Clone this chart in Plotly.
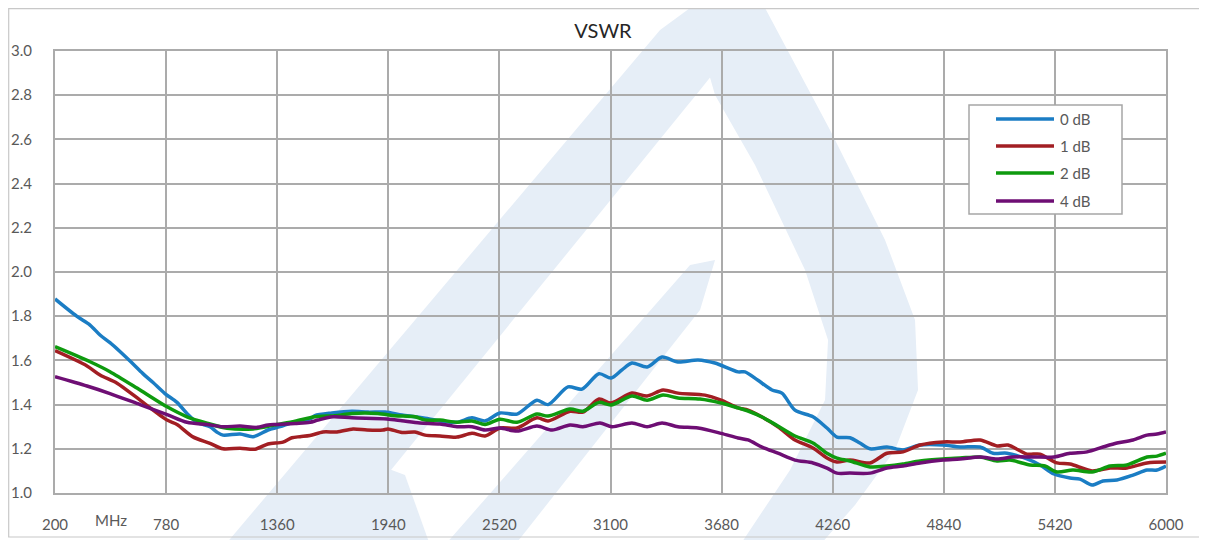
import plotly.graph_objects as go

# ---- data (MHz, VSWR) ----
f_0db = [200, 313, 383, 435, 487, 539, 600, 659, 712, 774, 837, 889, 941, 1009, 1046, 1077, 1166, 1234,
         1312, 1375, 1442, 1531, 1557, 1646, 1750, 1834, 1923, 2011, 2079, 2132, 2210, 2299, 2377, 2445,
         2523, 2612, 2716, 2774, 2878, 2951, 3040, 3103, 3160, 3212, 3291, 3369, 3452, 3557, 3645, 3766,
         3802, 3870, 3943, 3995, 4063, 4157, 4230, 4282, 4350, 4402, 4455, 4543, 4627, 4716, 4836, 4925,
         5029, 5097, 5170, 5274, 5342, 5415, 5499, 5551, 5614, 5671, 5744, 5828, 5901, 5953, 6000]
v_0db = [1.878, 1.80, 1.76, 1.715, 1.68, 1.64, 1.59, 1.54, 1.50, 1.45, 1.41, 1.36, 1.32, 1.30, 1.275, 1.262,
         1.267, 1.255, 1.285, 1.30, 1.32, 1.335, 1.35, 1.362, 1.37, 1.366, 1.366, 1.353, 1.345, 1.338, 1.326,
         1.32, 1.34, 1.326, 1.362, 1.357, 1.42, 1.40, 1.48, 1.47, 1.54, 1.52, 1.557, 1.588, 1.57, 1.615,
         1.593, 1.602, 1.588, 1.548, 1.548, 1.51, 1.466, 1.452, 1.375, 1.345, 1.294, 1.253, 1.25, 1.226,
         1.20, 1.208, 1.195, 1.217, 1.217, 1.208, 1.208, 1.18, 1.18, 1.154, 1.127, 1.086, 1.068, 1.063,
         1.036, 1.054, 1.059, 1.081, 1.104, 1.104, 1.122]

f_1db = [200, 367, 435, 524, 644, 785, 837, 920, 1009, 1077, 1166, 1244, 1312, 1390, 1437, 1479, 1531, 1599,
         1672, 1756, 1829, 1912, 1938, 2011, 2079, 2132, 2210, 2299, 2377, 2445, 2523, 2612, 2716, 2774,
         2889, 2956, 3040, 3103, 3212, 3291, 3374, 3452, 3593, 3677, 3766, 3818, 3891, 3974, 4063, 4157,
         4230, 4282, 4350, 4455, 4543, 4627, 4716, 4836, 4925, 5029, 5118, 5175, 5274, 5342, 5431, 5499,
         5614, 5708, 5796, 5901, 6000]
v_1db = [1.644, 1.575, 1.534, 1.497, 1.42, 1.33, 1.31, 1.254, 1.225, 1.20, 1.203, 1.198, 1.222, 1.23, 1.25,
         1.255, 1.26, 1.276, 1.276, 1.29, 1.285, 1.285, 1.29, 1.274, 1.276, 1.262, 1.258, 1.253, 1.27, 1.258,
         1.294, 1.294, 1.34, 1.326, 1.37, 1.366, 1.425, 1.407, 1.452, 1.439, 1.466, 1.452, 1.443, 1.42,
         1.385, 1.375, 1.344, 1.30, 1.24, 1.204, 1.158, 1.14, 1.149, 1.136, 1.18, 1.186, 1.217, 1.231,
         1.231, 1.24, 1.213, 1.217, 1.176, 1.176, 1.136, 1.131, 1.10, 1.113, 1.113, 1.136, 1.14]

f_2db = [200, 383, 487, 644, 785, 889, 994, 1098, 1234, 1359, 1453, 1557, 1662, 1750, 1886, 1975, 2079,
         2132, 2210, 2299, 2377, 2445, 2523, 2612, 2716, 2774, 2889, 2956, 3040, 3103, 3212, 3291, 3374,
         3452, 3567, 3677, 3766, 3818, 3891, 3974, 4063, 4157, 4230, 4282, 4350, 4455, 4543, 4627, 4716,
         4836, 4925, 5029, 5118, 5185, 5290, 5368, 5431, 5514, 5614, 5708, 5796, 5901, 5953, 6000]
v_2db = [1.662, 1.594, 1.549, 1.466, 1.39, 1.345, 1.316, 1.293, 1.29, 1.31, 1.325, 1.345, 1.35, 1.36,
         1.36, 1.35, 1.345, 1.33, 1.33, 1.32, 1.326, 1.31, 1.334, 1.32, 1.357, 1.348, 1.38, 1.37, 1.41,
         1.398, 1.439, 1.42, 1.443, 1.43, 1.425, 1.407, 1.385, 1.371, 1.344, 1.303, 1.258, 1.226, 1.18,
         1.158, 1.145, 1.118, 1.122, 1.131, 1.145, 1.154, 1.158, 1.163, 1.145, 1.149, 1.127, 1.122, 1.095,
         1.104, 1.095, 1.122, 1.127, 1.163, 1.167, 1.18]

f_4db = [200, 367, 487, 644, 785, 889, 994, 1077, 1166, 1255, 1312, 1359, 1453, 1531, 1573, 1651, 1750,
         1933, 2011, 2105, 2210, 2299, 2377, 2445, 2523, 2612, 2716, 2795, 2889, 2956, 3045, 3108, 3212,
         3291, 3369, 3452, 3557, 3677, 3766, 3818, 3891, 3974, 4063, 4157, 4230, 4282, 4350, 4455, 4543,
         4627, 4716, 4836, 4925, 5029, 5118, 5201, 5306, 5415, 5499, 5588, 5671, 5744, 5828, 5901, 5953,
         6000]
v_4db = [1.526, 1.484, 1.45, 1.40, 1.355, 1.32, 1.31, 1.30, 1.303, 1.297, 1.308, 1.31, 1.315, 1.32, 1.33,
         1.345, 1.34, 1.335, 1.327, 1.317, 1.312, 1.30, 1.30, 1.285, 1.294, 1.28, 1.303, 1.285, 1.308, 1.30,
         1.317, 1.30, 1.317, 1.30, 1.317, 1.30, 1.294, 1.27, 1.249, 1.24, 1.208, 1.18, 1.149, 1.136, 1.113,
         1.09, 1.09, 1.09, 1.113, 1.122, 1.136, 1.149, 1.154, 1.163, 1.154, 1.163, 1.163, 1.163, 1.18,
         1.186, 1.208, 1.226, 1.24, 1.262, 1.267, 1.276]

series_names = ["0 dB", "1 dB", "2 dB", "4 dB"]
series_colors = ["#1B7DC4", "#A21E23", "#0E9A0E", "#6E0E74"]
x_ticks = [200, 780, 1360, 1940, 2520, 3100, 3680, 4260, 4840, 5420, 6000]
y_ticks = [1.0, 1.2, 1.4, 1.6, 1.8, 2.0, 2.2, 2.4, 2.6, 2.8, 3.0]

FONT = "Lato"
TICK_COL = "#595959"
GRID_COL = "#ABABAB"

# The page body has an 8px margin; work in page pixels and convert.
OFF = 8
W, H = 1199, 532                      # figure size (page 8..1207, 8..540)
PL, PR, PT, PB = 55, 1166, 51, 493    # plot area in page pixels
L, T = PL - OFF, PT - OFF
R, B = W - (PR - OFF), H - (PB - OFF)
PW, PH = PR - PL, PB - PT


def px(x):
    return (x - PL) / PW


def py(y):
    return (PB - y) / PH


def path(points):
    return "M " + " L ".join(f"{px(a):.4f},{py(b):.4f}" for a, b in points) + " Z"


fig = go.Figure()
for name, col, xs, ys in zip(series_names, series_colors,
                             [f_0db, f_1db, f_2db, f_4db], [v_0db, v_1db, v_2db, v_4db]):
    fig.add_trace(go.Scatter(x=xs, y=ys, name=name, mode="lines", showlegend=False,
                             line=dict(color=col, width=3.5, shape="spline", smoothing=0.8)))

WM = "#E6EEF7"
shapes = []
# watermark logo (approximate)
shapes.append(dict(type="path", xref="paper", yref="paper", layer="below", line=dict(width=0), fillcolor=WM,
                   path=path([(225, 545), (330, 545), (700, 90), (740, 40), (765, 8), (690, 8), (660, 30)])))
shapes.append(dict(type="path", xref="paper", yref="paper", layer="below", line=dict(width=0), fillcolor=WM,
                   path=path([(690, 8), (765, 8), (830, 130), (885, 240), (915, 320), (918, 390),
                              (895, 450), (855, 505), (820, 545), (740, 545), (790, 470), (825, 400),
                              (828, 340), (805, 270), (755, 165), (715, 95)])))
shapes.append(dict(type="path", xref="paper", yref="paper", layer="below", line=dict(width=0), fillcolor=WM,
                   path=path([(300, 545), (330, 485), (365, 460), (405, 475), (430, 545)])))
shapes.append(dict(type="path", xref="paper", yref="paper", layer="below", line=dict(width=0), fillcolor=WM,
                   path=path([(445, 545), (515, 545), (700, 310), (715, 260), (690, 265)])))
# outer chart border
shapes.append(dict(type="rect", xref="paper", yref="paper", layer="above",
                   x0=px(8.7), x1=px(1200), y0=py(537), y1=py(8.7),
                   line=dict(color="#C8C8C8", width=1.2), fillcolor="rgba(0,0,0,0)"))

# legend box drawn on the chart
LEG_X0, LEG_X1, LEG_Y0, LEG_Y1 = 969, 1122, 105, 214
shapes.append(dict(type="rect", xref="paper", yref="paper", layer="above",
                   x0=px(LEG_X0), x1=px(LEG_X1), y0=py(LEG_Y1), y1=py(LEG_Y0),
                   line=dict(color="#A6A6A6", width=1.5), fillcolor="white"))
annotations = [dict(text="MHz", x=490, xref="x", y=py(520), yref="paper", yanchor="middle",
                    showarrow=False, font=dict(family=FONT, size=15, color=TICK_COL))]
item_y = [119, 146, 173, 201]
for name, col, yy in zip(series_names, series_colors, item_y):
    shapes.append(dict(type="line", xref="paper", yref="paper", layer="above",
                       x0=px(996), x1=px(1054), y0=py(yy), y1=py(yy),
                       line=dict(color=col, width=3.5)))
    annotations.append(dict(text=name, x=px(1058), y=py(yy), xref="paper", yref="paper",
                            xanchor="left", yanchor="middle", showarrow=False,
                            font=dict(family=FONT, size=15, color=TICK_COL)))

fig.update_layout(
    width=W, height=H,
    margin=dict(l=L, r=R, t=T, b=B, pad=0, autoexpand=False),
    paper_bgcolor="white", plot_bgcolor="white",
    font=dict(family=FONT, color=TICK_COL, size=15),
    title=dict(text="VSWR", x=(603 - OFF) / W, xanchor="center", y=1 - (31 - OFF) / H, yanchor="middle",
               font=dict(family=FONT, size=20, color="#262626")),
    showlegend=False,
    shapes=shapes,
    annotations=annotations,
)
fig.update_xaxes(range=[200, 6000], tickvals=x_ticks, ticktext=[str(v) for v in x_ticks],
                 showgrid=True, gridcolor=GRID_COL, gridwidth=2, zeroline=False, automargin=False,
                 showline=True, mirror=True, linecolor=GRID_COL, linewidth=2,
                 ticks="", ticklabelstandoff=17, tickfont=dict(size=15, color=TICK_COL))
fig.update_yaxes(range=[1.0, 3.0], tickvals=y_ticks, ticktext=[f"{v:.1f}" for v in y_ticks],
                 showgrid=True, gridcolor=GRID_COL, gridwidth=2, zeroline=False, automargin=False,
                 showline=True, mirror=True, linecolor=GRID_COL, linewidth=2,
                 ticks="", ticklabelstandoff=18, tickfont=dict(size=15, color=TICK_COL))

fig.write_html("out.html")
